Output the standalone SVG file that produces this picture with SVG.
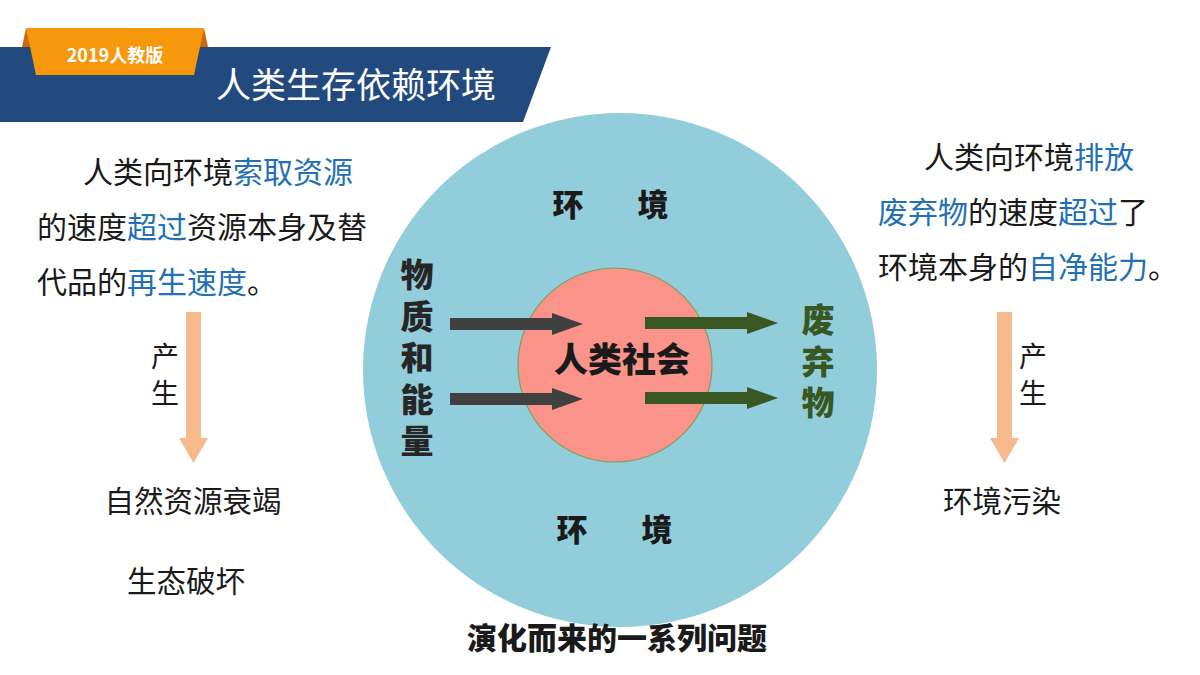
<svg xmlns="http://www.w3.org/2000/svg" width="1200" height="675" viewBox="0 0 1200 675">
<style>
text{font-family:"Noto Sans CJK SC","Liberation Sans",sans-serif;}
.body{font-size:30px;fill:#1a1a1a;}
.hl{fill:#2270B5;}
.bold{font-weight:900;fill:#1a1a1a;}
.vt{font-size:33px;font-weight:900;writing-mode:vertical-rl;letter-spacing:8.5px;}
.res{font-size:29.5px;fill:#1a1a1a;text-anchor:middle;}
.prod{font-size:28px;fill:#1a1a1a;text-anchor:middle;}
.darr{fill:#404040;}
.garr{fill:#385723;}
.parr{fill:#F6B98C;}
</style>
<rect width="1200" height="675" fill="#ffffff"/>

<g id="header">
  <polygon points="0,47 551,47 523,122 0,122" fill="#234A7E"/>
  <polygon points="22,47 26,28 36,47" fill="#C96A0A"/>
  <polygon points="204,28 208,47 194,47" fill="#C96A0A"/>
  <polygon points="26,28 204,28 194,75 36,75" fill="#F7970B"/>
  <text x="115" y="62" font-size="18" font-weight="bold" fill="#ffffff" text-anchor="middle">2019人教版</text>
  <text x="356" y="98" font-size="35" fill="#ffffff" text-anchor="middle">人类生存依赖环境</text>
</g>

<g id="environment">
  <circle cx="620" cy="370" r="257" fill="#92CDDC"/>
  <text x="568" y="216" font-size="31" class="bold" text-anchor="middle">环</text>
  <text x="653" y="216" font-size="31" class="bold" text-anchor="middle">境</text>
  <text x="572" y="541" font-size="31" class="bold" text-anchor="middle">环</text>
  <text x="657" y="541" font-size="31" class="bold" text-anchor="middle">境</text>
</g>

<g id="society">
  <circle cx="615" cy="365" r="97" fill="#FA9389" stroke="#7FA05A" stroke-width="1.2"/>
  <text x="622" y="372" font-size="34" class="bold" text-anchor="middle">人类社会</text>
</g>

<g id="matter-energy">
  <text class="vt" x="417" y="258" fill="#262626">物质和能量</text>
</g>

<g id="waste">
  <text class="vt" x="818" y="303" fill="#385723">废弃物</text>
</g>

<g id="connectors">
  <polygon class="darr" points="450,318 552,318 552,313 583,324 552,335 552,330 450,330"/>
  <polygon class="darr" points="450,393 552,393 552,388 583,399 552,410 552,405 450,405"/>
  <polygon class="garr" points="645,317 747,317 747,312 778,323 747,334 747,329 645,329"/>
  <polygon class="garr" points="645,392 747,392 747,387 778,398 747,409 747,404 645,404"/>
  <polygon class="parr" points="186,312 201,312 201,438 208,438 193.5,463 179,438 186,438"/>
  <polygon class="parr" points="997,312 1012,312 1012,438 1019,438 1004.5,463 990,438 997,438"/>
</g>

<g id="left-text">
  <text class="body" x="83" y="183">人类向环境<tspan class="hl">索取资源</tspan></text>
  <text class="body" x="37" y="238">的速度<tspan class="hl">超过</tspan>资源本身及替</text>
  <text class="body" x="37" y="293">代品的<tspan class="hl">再生速度</tspan>。</text>
  <text class="prod"><tspan x="165" y="367">产</tspan><tspan x="165" y="404">生</tspan></text>
  <text class="res" x="193" y="512">自然资源衰竭</text>
  <text class="res" x="186" y="592">生态破坏</text>
</g>

<g id="right-text">
  <text class="body" x="924" y="168">人类向环境<tspan class="hl">排放</tspan></text>
  <text class="body" x="878" y="223"><tspan class="hl">废弃物</tspan>的速度<tspan class="hl">超过</tspan>了</text>
  <text class="body" x="878" y="278">环境本身的<tspan class="hl">自净能力</tspan>。</text>
  <text class="prod"><tspan x="1033" y="367">产</tspan><tspan x="1033" y="404">生</tspan></text>
  <text class="res" x="1002" y="512">环境污染</text>
</g>

<g id="caption">
  <text x="617" y="649" font-size="30" class="bold" text-anchor="middle">演化而来的一系列问题</text>
</g>
</svg>
